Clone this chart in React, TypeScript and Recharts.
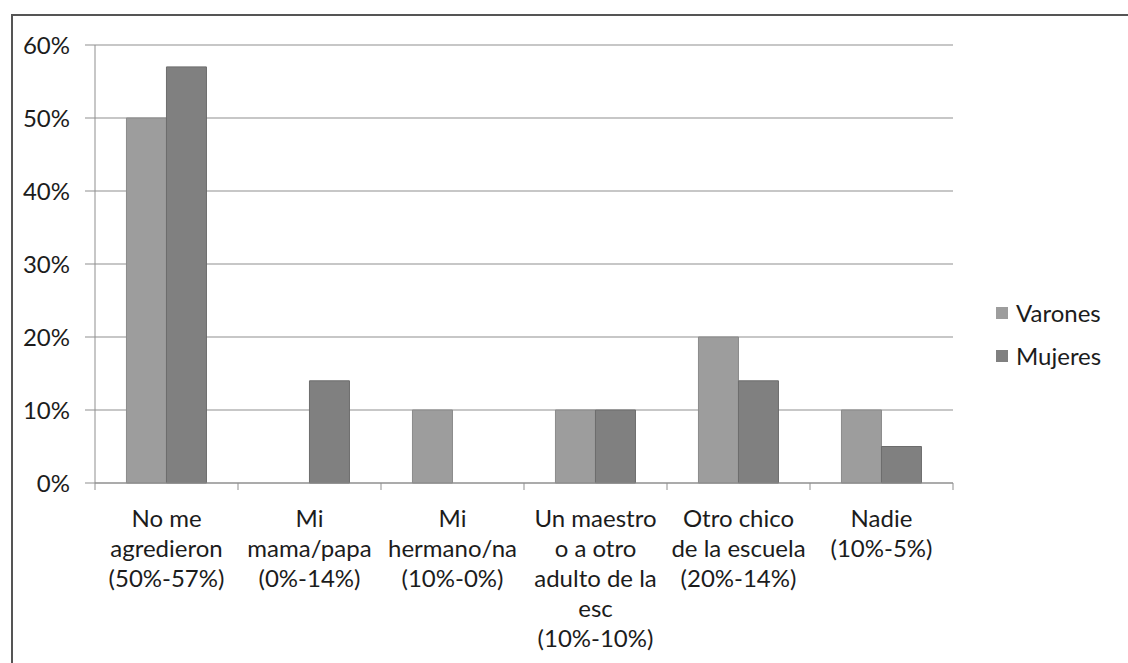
import { BarChart, Bar, XAxis, YAxis, CartesianGrid, Legend } from 'recharts';

const CATEGORIES = [
  'No me agredieron',
  'Mi mama/papa',
  'Mi hermano/na',
  'Un maestro o a otro adulto de la esc',
  'Otro chico de la escuela',
  'Nadie',
];
// how the axis label of each category breaks into lines
const CATEGORY_LINES = [
  ['No me', 'agredieron', '(50%-57%)'],
  ['Mi', 'mama/papa', '(0%-14%)'],
  ['Mi', 'hermano/na', '(10%-0%)'],
  ['Un maestro', 'o a otro', 'adulto de la', 'esc', '(10%-10%)'],
  ['Otro chico', 'de la escuela', '(20%-14%)'],
  ['Nadie', '(10%-5%)'],
];
const SERIES = ['Varones', 'Mujeres'];
const VARONES = [50, 0, 10, 10, 20, 10];
const MUJERES = [57, 14, 0, 10, 14, 5];
const Y_TICKS = [0, 10, 20, 30, 40, 50, 60];

const data = CATEGORIES.map((name, i) => ({
  name,
  lines: CATEGORY_LINES[i],
  Varones: VARONES[i],
  Mujeres: MUJERES[i],
}));

const FONT = 'Lato, "Noto Sans", sans-serif';
const FONT_SIZE = 24;
const TEXT = '#1c1c1c';
const GRID = '#8f8f8f';

function CategoryTick(props: any) {
  const { x, y, payload, index, visibleTicksCount } = props;
  const half = payload.offset ?? 0;
  const lines: string[] = data[index]?.lines ?? [String(payload.value)];
  const last = index === (visibleTicksCount ?? data.length) - 1;
  return (
    <g>
      <line x1={x - half} x2={x - half} y1={y} y2={y + 7} stroke={GRID} />
      {last && <line x1={x + half} x2={x + half} y1={y} y2={y + 7} stroke={GRID} />}
      <text x={x} y={y + 44} textAnchor="middle" fontFamily={FONT} fontSize={FONT_SIZE} fill={TEXT}>
        {lines.map((l, i) => (
          <tspan key={i} x={x} dy={i === 0 ? 0 : 30}>{l}</tspan>
        ))}
      </text>
    </g>
  );
}

function LegendBox(props: any) {
  const items = [...(props.payload ?? [])].sort(
    (a: any, b: any) => SERIES.indexOf(a.value) - SERIES.indexOf(b.value),
  );
  return (
    <div style={{ fontFamily: FONT, fontSize: FONT_SIZE, color: TEXT }}>
      {items.map((it: any) => (
        <div key={it.value} style={{ display: 'flex', alignItems: 'center', height: 43 }}>
          <span style={{ width: 12, height: 12, background: it.color, marginRight: 8, display: 'inline-block' }} />
          {it.value}
        </div>
      ))}
    </div>
  );
}

export default function App() {
  return (
    <div style={{ position: 'absolute', left: 0, top: 0, width: 1128, height: 663, background: '#fff', overflow: 'hidden' }}>
      <div style={{
        position: 'absolute', left: 11, top: 14, width: 1200, height: 700,
        borderLeft: '2px solid #555', borderTop: '2px solid #555',
      }} />
      <BarChart
        width={1128}
        height={663}
        data={data}
        margin={{ top: 45, right: 175, bottom: 0, left: 0 }}
        barCategoryGap="22%"
        barGap={0}
      >
        <CartesianGrid vertical={false} stroke={GRID} />
        <YAxis
          width={95}
          domain={[0, 60]}
          ticks={Y_TICKS}
          tickFormatter={(v: number) => `${v}%`}
          tickSize={10}
          tickMargin={15}
          tickLine={{ stroke: GRID }}
          axisLine={{ stroke: GRID }}
          tick={{ fontFamily: FONT, fontSize: FONT_SIZE, fill: TEXT }}
        />
        <XAxis
          dataKey="name"
          height={180}
          interval={0}
          tickSize={0}
          tickMargin={0}
          tickLine={false}
          axisLine={{ stroke: GRID }}
          tick={<CategoryTick />}
        />
        <Legend
          layout="vertical"
          align="center"
          verticalAlign="middle"
          wrapperStyle={{ left: 996, top: 291, width: 132 }}
          content={<LegendBox />}
        />
        <Bar dataKey="Varones" fill="#9d9d9d" stroke="#8a8a8a" isAnimationActive={false} />
        <Bar dataKey="Mujeres" fill="#808080" stroke="#6c6c6c" isAnimationActive={false} />
      </BarChart>
    </div>
  );
}
